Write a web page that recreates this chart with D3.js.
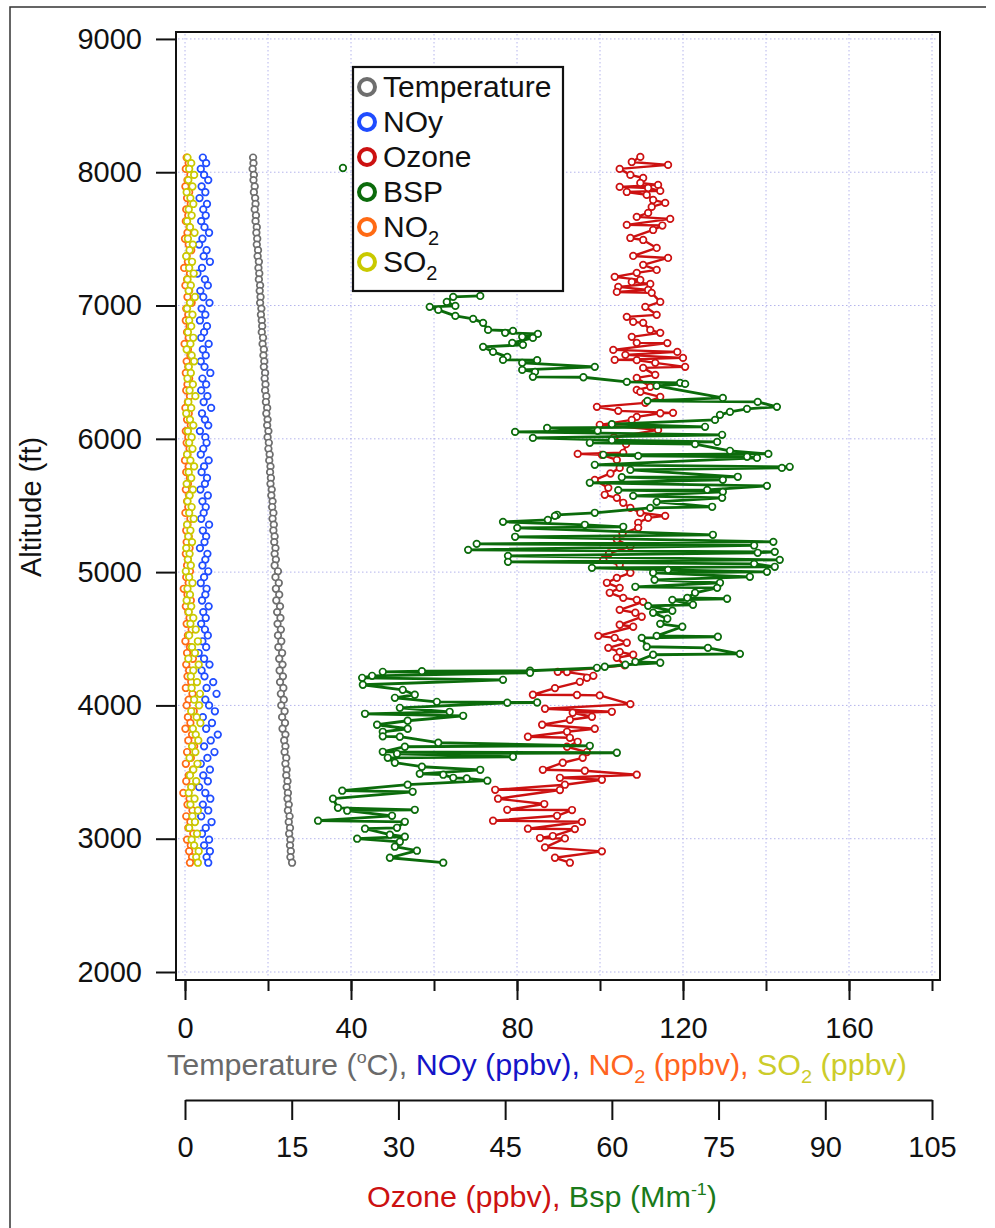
<!DOCTYPE html>
<html><head><meta charset="utf-8">
<script src="https://cdn.jsdelivr.net/npm/d3@7"></script>
<style>
body{margin:0;background:#fff}
svg{display:block}
text{font-family:"Liberation Sans",Arial,sans-serif}
</style>
</head><body>
<svg id="c" width="995" height="1228"></svg>
<script>
// ---------------- DATA ----------------
const altTicks = [2000, 3000, 4000, 5000, 6000, 7000, 8000, 9000];
const topTicks = [0, 20, 40, 60, 80, 100, 120, 140, 160, 180];
const topLabelTicks = [0, 40, 80, 120, 160];
const bottomTicks = [0, 15, 30, 45, 60, 75, 90, 105];

// profile shared by Temperature, NOy, NO2, SO2 (ft)
const profileAlt = [
 8110, 8068, 8025, 7980, 7941, 7893, 7850, 7806, 7762, 7721,
 7675, 7633, 7588, 7546, 7501, 7457, 7415, 7370, 7328, 7282,
 7240, 7196, 7151, 7110, 7064, 7020, 6977, 6931, 6888, 6845,
 6800, 6758, 6712, 6670, 6626, 6581, 6540, 6494, 6452, 6408,
 6363, 6320, 6276, 6232, 6190, 6144, 6101, 6058, 6012, 5970,
 5925, 5882, 5838, 5793, 5750, 5706, 5662, 5619, 5575, 5531,
 5488, 5444, 5400, 5356, 5312, 5268, 5225, 5180, 5137, 5094,
 5050, 5006, 4962, 4918, 4875, 4831, 4787, 4743, 4700, 4656,
 4612, 4569, 4525, 4481, 4437, 4393, 4350, 4306, 4262, 4218,
 4175, 4131, 4087, 4043, 4000, 3956, 3912, 3868, 3825, 3781,
 3737, 3693, 3650, 3606, 3562, 3518, 3475, 3431, 3387, 3343,
 3300, 3256, 3212, 3168, 3125, 3081, 3037, 2993, 2950, 2906,
 2862, 2820];
const temperature = [
 16.4, 16.5, 16.3, 16.6, 16.5, 16.8, 16.6, 16.9, 17.0, 16.8,
 17.1, 17.0, 17.3, 17.2, 17.4, 17.3, 17.6, 17.5, 17.8, 17.7,
 17.9, 17.8, 18.1, 18.0, 18.2, 18.1, 18.4, 18.3, 18.5, 18.6,
 18.5, 18.8, 18.7, 19.0, 18.9, 19.1, 19.0, 19.3, 19.2, 19.4,
 19.3, 19.6, 19.5, 19.8, 19.6, 19.9, 19.8, 20.1, 19.9, 20.2,
 20.1, 20.4, 20.3, 20.6, 20.5, 20.7, 20.6, 20.9, 20.8, 21.1,
 21.0, 21.3, 21.1, 21.4, 21.3, 21.6, 21.5, 21.8, 21.6, 21.9,
 21.6, 22.4, 21.8, 22.6, 21.9, 22.7, 22.0, 22.9, 22.2, 23.0,
 22.3, 23.1, 22.4, 23.2, 22.5, 23.4, 22.7, 23.5, 22.8, 23.6,
 22.9, 23.7, 23.1, 23.8, 23.2, 24.0, 23.4, 24.1, 23.5, 24.2,
 23.9, 24.2, 24.0, 24.4, 24.2, 24.5, 24.4, 24.7, 24.5, 24.8,
 24.7, 25.0, 24.8, 25.2, 25.0, 25.3, 25.1, 25.4, 25.3, 25.5,
 25.4, 25.8];
const noy = [
 4.3, 5.1, 3.8, 4.6, 5.6, 4.0, 4.9, 3.5, 5.3, 4.4,
 5.0, 3.9, 4.7, 5.8, 4.2, 3.4, 5.2, 4.5, 6.0, 4.1,
 3.0, 4.8, 5.5, 3.7, 4.4, 5.9, 4.0, 4.9, 3.6, 5.3,
 4.6, 3.9, 5.7, 4.3, 5.0, 3.8, 4.7, 6.1, 4.2, 5.1,
 3.9, 5.4, 4.5, 6.3, 4.1, 4.8, 5.6, 3.6, 4.9, 5.2,
 4.4, 3.8, 5.7, 4.6, 4.0, 5.3, 4.8, 3.7, 5.5, 4.2,
 5.0, 4.5, 3.9, 5.8, 4.3, 5.1, 4.7, 3.6, 5.4, 4.9,
 4.2, 5.6, 4.6, 3.8, 5.2, 4.9, 4.1, 5.7, 4.4, 5.0,
 3.9, 4.8, 5.5, 4.2, 5.1, 3.3, 4.6, 5.9, 4.0, 4.7,
 6.8, 5.2, 7.6, 4.9, 5.8, 7.2, 4.3, 6.5, 5.1, 7.9,
 6.2, 4.6, 7.1, 5.4, 3.8, 6.0, 4.4, 5.5, 3.4, 4.9,
 6.1, 4.3, 5.6, 3.9, 6.4, 5.0, 4.1, 5.8, 4.6, 6.0,
 5.2, 5.6];
const no2 = [
 0.4, 0.9, 0.2, 1.3, 0.6, 0.1, 1.0, 0.5, 1.4, 0.3,
 0.8, 0.2, 1.1, 0.6, 0.0, 0.9, 1.5, 0.4, 0.7, -0.2,
 1.2, 0.5, 0.1, 1.0, 0.6, 1.6, 0.3, 0.8, 0.2, 1.1,
 0.5, 0.9, -0.1, 0.7, 1.3, 0.4, 0.8, 0.2, 1.0, 0.6,
 0.3, 1.2, 0.7, 0.1, 0.9, 0.5, 1.4, 0.2, 0.8, 0.4,
 1.1, 0.6, 0.0, 0.9, 0.3, 1.2, 0.7, 0.2, 1.0, 0.5,
 0.8, 0.1, 1.3, 0.6, 0.3, 0.9, 0.4, 1.1, 0.2, 0.7,
 0.5, 1.2, 0.3, 0.9, -0.3, 0.6, 1.4, 0.2, 0.8, 1.1,
 0.4, 1.6, 0.7, 0.1, 1.2, 0.5, 1.9, 0.3, 1.0, 0.6,
 1.5, 0.2, 1.8, 0.9, 0.4, 2.1, 0.7, 1.3, 0.1, 1.7,
 0.8, 2.2, 0.5, 1.4, 0.2, 1.9, 0.9, 0.3, 1.6, -0.4,
 1.1, 0.6, 1.8, 0.3, 1.3, 0.8, 2.0, 0.5, 1.4, 1.0,
 1.7, 1.2];
const so2 = [
 0.6, 1.5, 1.0, 2.2, 0.8, 1.8, 0.4, 1.3, 2.0, 0.9,
 1.6, 0.5, 1.2, 2.3, 0.7, 1.9, 1.1, 0.3, 1.7, 1.0,
 2.1, 0.6, 1.4, 0.9, 2.4, 1.2, 0.5, 1.8, 1.0, 1.5,
 0.7, 2.0, 1.3, 0.4, 1.6, 2.2, 0.9, 1.4, 0.6, 1.9,
 1.1, 2.5, 0.8, 1.5, 0.3, 1.2, 2.0, 0.7, 1.6, 1.0,
 1.8, 0.5, 1.3, 2.2, 0.9, 1.5, 0.4, 1.9, 1.1, 0.6,
 1.6, 1.0, 2.1, 0.5, 1.3, 0.8, 1.7, 0.3, 1.1, 0.7,
 1.4, 0.2, 1.0, 1.8, 0.6, 1.2, 0.4, 1.5, 0.9, 2.0,
 1.3, 2.6, 1.0, 3.1, 1.7, 2.4, 0.8, 3.3, 2.0, 1.4,
 2.9, 1.6, 3.6, 2.2, 3.4, 1.5, 2.8, 3.7, 1.9, 2.6,
 3.2, 1.7, 2.5, 1.1, 3.0, 2.0, 1.2, 2.7, 1.5, 0.9,
 2.3, 1.3, 3.1, 1.8, 2.4, 1.0, 2.9, 1.6, 2.2, 3.3,
 2.7, 3.1];

// Ozone (ppbv)
const ozoneAlt = [
 8115, 8077, 8055, 8025, 7980, 7957, 7920, 7905, 7890, 7882,
 7860, 7852, 7830, 7792, 7770, 7740, 7695, 7665, 7650, 7605,
 7600, 7567, 7507, 7492, 7432, 7372, 7357, 7305, 7267, 7245,
 7215, 7192, 7177, 7162, 7140, 7117, 7102, 7095, 7027, 6990,
 6930, 6915, 6877, 6870, 6817, 6795, 6765, 6720, 6718, 6667,
 6652, 6630, 6607, 6592, 6590, 6570, 6540, 6532, 6480, 6457,
 6390, 6367, 6352, 6315, 6270, 6240, 6210, 6195, 6192, 6165,
 6142, 6105, 6067, 6010, 5960, 5895, 5887, 5880, 5842, 5782,
 5740, 5692, 5632, 5580, 5557, 5520, 5482, 5445, 5422, 5407,
 5370, 5332, 5290, 5245, 5192, 5140, 5092, 5055, 4995, 4957,
 4920, 4882, 4845, 4807, 4792, 4777, 4717, 4695, 4665, 4605,
 4590, 4522, 4507, 4470, 4432, 4402, 4380, 4357, 4300, 4252,
 4250, 4222, 4207, 4177, 4130, 4080, 4078, 4075, 4010, 3975,
 3952, 3945, 3915, 3892, 3855, 3825, 3802, 3765, 3757, 3727,
 3690, 3650, 3607, 3570, 3517, 3510, 3480, 3457, 3442, 3405,
 3367, 3365, 3300, 3260, 3217, 3215, 3172, 3135, 3127, 3075,
 3072, 3020, 3005, 3002, 2935, 2905, 2857, 2820];
const ozone = [
 64.0, 62.8, 67.9, 61.1, 62.6, 64.4, 64.0, 66.5, 61.1, 65.1,
 66.8, 62.1, 64.9, 65.8, 67.5, 65.6, 65.1, 63.5, 68.2, 62.1,
 67.1, 65.8, 62.6, 64.4, 66.3, 63.0, 67.9, 64.4, 66.3, 63.5,
 60.4, 64.0, 62.8, 65.4, 60.9, 65.1, 60.7, 65.6, 66.8, 64.7,
 66.3, 62.1, 63.0, 64.4, 65.4, 66.8, 62.8, 63.5, 67.8, 60.2,
 69.2, 61.9, 70.0, 60.4, 63.5, 66.1, 70.3, 64.4, 66.1, 63.5,
 65.4, 63.5, 64.0, 66.8, 64.7, 57.9, 60.9, 68.6, 66.8, 63.5,
 62.8, 58.3, 66.5, 60.3, 62.0, 61.6, 55.2, 58.6, 60.7, 61.1,
 59.8, 57.6, 59.5, 59.0, 60.7, 61.6, 62.6, 64.0, 67.5, 65.1,
 63.7, 63.7, 61.5, 60.7, 62.6, 59.6, 58.8, 61.1, 62.6, 60.7,
 59.3, 61.1, 59.7, 61.6, 63.5, 64.4, 61.1, 63.3, 64.2, 61.1,
 63.0, 58.1, 60.4, 62.1, 59.5, 61.1, 63.0, 60.7, 61.8, 52.4,
 53.7, 57.4, 56.5, 55.5, 52.0, 48.9, 55.1, 58.3, 62.6, 50.6,
 60.0, 54.5, 57.2, 54.1, 50.2, 57.6, 53.7, 48.2, 54.1, 55.2,
 53.7, 56.5, 55.9, 53.1, 50.3, 56.2, 63.5, 52.7, 58.6, 53.4,
 43.6, 52.7, 44.0, 50.5, 45.3, 54.4, 52.3, 43.3, 55.8, 48.2,
 54.8, 51.7, 49.9, 53.4, 50.6, 58.6, 52.0, 54.1];

// BSP (Mm-1); null = no data (gap in the line)
const bspAlt = [
 8032, 7500, 7072, 7065, 7027, 6997, 6990, 6967, 6922, 6900,
 6870, 6817, 6810, 6795, 6787, 6765, 6757, 6720, 6705, 6690,
 6652, 6615, 6592, 6590, 6570, 6540, 6517, 6502, 6465, 6462,
 6427, 6420, 6412, 6397, 6307, 6285, 6277, 6240, 6225, 6202,
 6180, 6142, 6110, 6090, 6082, 6060, 6052, 6030, 6007, 5990,
 5977, 5970, 5960, 5910, 5887, 5880, 5872, 5865, 5857, 5805,
 5790, 5782, 5767, 5715, 5712, 5692, 5670, 5647, 5617, 5615,
 5602, 5572, 5557, 5527, 5490, 5482, 5445, 5430, 5422, 5392,
 5377, 5355, 5340, 5332, 5280, 5265, 5227, 5212, 5200, 5167,
 5152, 5145, 5122, 5092, 5077, 5062, 5040, 5032, 5017, 5002,
 4995, 4965, 4942, 4920, 4890, 4882, 4845, 4807, 4800, 4792,
 4755, 4747, 4710, 4695, 4650, 4612, 4590, 4522, 4515, 4507,
 4440, 4432, 4387, 4380, 4327, 4320, 4305, 4290, 4282, 4260,
 4257, 4252, 4245, 4222, 4207, 4192, 4155, 4117, 4080, 4057,
 4027, 4022, 4020, 3982, 3952, 3937, 3922, 3885, 3855, 3825,
 3802, 3768, 3765, 3720, 3697, 3690, 3652, 3645, 3637, 3615,
 3607, 3570, 3540, 3517, 3487, 3480, 3457, 3452, 3435, 3405,
 3360, 3352, 3300, 3232, 3217, 3210, 3172, 3135, 3127, 3082,
 3075, 3030, 3015, 3000, 2977, 2940, 2910, 2857, 2820];
const bsp = [
 22.2, null, 41.5, 37.7, 36.8, 38.0, 34.4, 35.6, 38.0, 40.5,
 41.9, 42.6, 46.1, 45.0, 49.6, 47.4, 48.9, 46.0, 47.5, 41.9,
 43.3, 45.3, 44.7, 49.5, 47.4, 57.6, 47.4, 49.2, 48.9, 56.0,
 62.1, 69.6, 70.3, 66.3, 75.6, 65.0, 80.5, 83.2, 79.0, 76.6,
 75.2, 74.5, 60.0, 73.1, 50.9, 58.0, 46.4, 75.5, 48.9, 60.0,
 74.8, 56.9, 71.7, 76.6, 82.0, 58.8, 63.7, 79.0, 80.4, 57.6,
 85.0, 83.9, 62.6, 77.7, 61.4, 75.6, 56.9, 81.8, 73.4, 60.9,
 75.6, 63.0, 75.5, 66.3, 74.1, 65.4, 57.6, 52.3, 52.0, 51.0,
 44.7, 56.2, 61.6, 46.7, 74.2, 46.4, 82.7, 41.0, 80.0, 39.8,
 82.9, 80.5, 45.4, 83.6, 45.4, 80.0, 82.9, 57.2, 67.9, 81.8,
 65.8, 79.4, 66.0, 75.2, 63.3, 74.8, 71.7, 70.6, 76.2, 68.5,
 71.4, 65.1, 68.5, 65.8, 67.8, 66.8, 69.9, 66.3, 74.9, 64.2,
 64.9, 73.5, 78.0, 65.8, 63.3, 66.8, 61.9, 59.0, 57.9, 48.5,
 33.3, 27.8, 48.5, 26.3, 24.9, 44.7, 25.0, 30.6, 32.3, 29.5,
 35.4, 49.5, 45.3, 30.2, 37.2, 25.3, 39.1, 31.3, 27.0, 31.3,
 27.8, 27.8, 30.2, 35.6, 56.9, 30.9, 27.8, 60.7, 29.8, 46.1,
 28.5, 29.5, 33.3, 41.5, 33.0, 36.3, 37.7, 39.6, 42.5, 31.3,
 22.1, 32.0, 20.8, 21.5, 32.3, 22.8, 29.1, 18.7, 30.9, 29.8,
 25.3, 28.8, 30.9, 24.2, 30.2, 29.5, 32.6, 28.8, 36.3];

const legendItems = ["Temperature", "NOy", "Ozone", "BSP", "NO2", "SO2"];

// ---------------- STYLE ----------------
const C = {
  temp: "#6e6e6e", noy: "#1f4cff", ozone: "#cc1111", bsp: "#0b6b0b",
  no2: "#ff6a14", so2: "#c9c900"
};
const FONT = 29;

const svg = d3.select("#c");
svg.append("rect").attr("width", 995).attr("height", 1228).attr("fill", "#fff");
svg.append("path").attr("d", "M10,1228V7H986").attr("fill", "none")
  .attr("stroke", "#333").attr("stroke-width", 1.5);

const frame = {l: 176, t: 32, r: 940, b: 980};
const y = d3.scaleLinear().domain([1940, 9052]).range([frame.b, frame.t]);
const xTop = d3.scaleLinear().domain([0, 180]).range([185, 932]);
const xBot = d3.scaleLinear().domain([0, 105]).range([185, 932]);

// grid
const grid = svg.append("g").attr("stroke", "#b4b4ec").attr("stroke-width", 1)
  .attr("stroke-dasharray", "1.5,2.5");
grid.selectAll("line.gv").data(topTicks).join("line").attr("class", "gv")
  .attr("x1", d => xTop(d)).attr("x2", d => xTop(d))
  .attr("y1", frame.t + 2).attr("y2", frame.b - 2);
grid.selectAll("line.gh").data(altTicks).join("line").attr("class", "gh")
  .attr("y1", d => y(d)).attr("y2", d => y(d))
  .attr("x1", frame.l + 2).attr("x2", frame.r - 2);

// data
const plot = svg.append("g");
function markers(data, xf, color) {
  plot.append("g").selectAll("circle").data(data.filter(d => d.v != null)).join("circle")
    .attr("cx", d => xf(d.v)).attr("cy", d => y(d.a)).attr("r", 3.3)
    .attr("fill", "#fff").attr("stroke", color).attr("stroke-width", 1.7);
}
function line(data, xf, color, w) {
  plot.append("path").datum(data)
    .attr("d", d3.line().defined(d => d.v != null).x(d => xf(d.v)).y(d => y(d.a)))
    .attr("fill", "none").attr("stroke", color).attr("stroke-width", w)
    .attr("stroke-linejoin", "round");
}
const zip = (alts, vals) => alts.map((a, i) => ({a, v: vals[i]}));

markers(zip(profileAlt, temperature), xTop, C.temp);
markers(zip(profileAlt, noy), xTop, C.noy);
const oz = zip(ozoneAlt, ozone);
line(oz, xBot, C.ozone, 2.4);
markers(oz, xBot, C.ozone);
const bs = zip(bspAlt, bsp);
line(bs, xBot, C.bsp, 2.8);
markers(bs, xBot, C.bsp);
markers(zip(profileAlt, no2), xTop, C.no2);
markers(zip(profileAlt, so2), xTop, C.so2);

// frame
svg.append("rect").attr("x", frame.l).attr("y", frame.t)
  .attr("width", frame.r - frame.l).attr("height", frame.b - frame.t)
  .attr("fill", "none").attr("stroke", "#111").attr("stroke-width", 2);

function styleAxis(g) {
  g.selectAll(".tick line").attr("stroke", "#111").attr("stroke-width", 2);
  g.selectAll("text").attr("font-size", FONT).attr("fill", "#111")
    .attr("font-family", '"Liberation Sans", Arial, sans-serif');
}
// left axis
const ga = svg.append("g").attr("transform", `translate(${frame.l},0)`)
  .call(d3.axisLeft(y).tickValues(altTicks).tickSize(20).tickPadding(14).tickFormat(d3.format("d")));
ga.select(".domain").remove();
styleAxis(ga);

// first x axis (minor + major)
const gm = svg.append("g").attr("transform", `translate(0,${frame.b})`)
  .call(d3.axisBottom(xTop).tickValues(topTicks).tickSize(11).tickFormat(""));
gm.select(".domain").remove();
styleAxis(gm);
const gx1 = svg.append("g").attr("transform", `translate(0,${frame.b})`)
  .call(d3.axisBottom(xTop).tickValues(topLabelTicks).tickSize(20).tickPadding(17).tickFormat(d3.format("d")));
gx1.select(".domain").remove();
styleAxis(gx1);

// second x axis
const gx2 = svg.append("g").attr("transform", "translate(0,1100)")
  .call(d3.axisBottom(xBot).tickValues(bottomTicks).tickSize(20).tickSizeOuter(0).tickPadding(16).tickFormat(d3.format("d")));
gx2.select(".domain").attr("stroke", "#111").attr("stroke-width", 2);
styleAxis(gx2);

// y title
svg.append("text").attr("transform", "translate(41,507) rotate(-90)")
  .attr("text-anchor", "middle").attr("font-size", FONT).attr("fill", "#111")
  .text("Altitude (ft)");

// x title 1
const t1 = svg.append("text").attr("x", 167).attr("y", 1075).attr("font-size", FONT)
  .attr("textLength", 740).attr("lengthAdjust", "spacingAndGlyphs");
t1.append("tspan").attr("fill", "#6a6a6a").text("Temperature (");
t1.append("tspan").attr("fill", "#6a6a6a").attr("font-size", 17).attr("dy", -12).text("o");
t1.append("tspan").attr("fill", "#6a6a6a").attr("dy", 12).text("C), ");
t1.append("tspan").attr("fill", "#1414c8").text("NOy (ppbv), ");
t1.append("tspan").attr("fill", "#ff6420").text("NO");
t1.append("tspan").attr("fill", "#ff6420").attr("font-size", 19).attr("dy", 8).text("2");
t1.append("tspan").attr("fill", "#ff6420").attr("dy", -8).text(" (ppbv), ");
t1.append("tspan").attr("fill", "#cccc2a").text("SO");
t1.append("tspan").attr("fill", "#cccc2a").attr("font-size", 19).attr("dy", 8).text("2");
t1.append("tspan").attr("fill", "#cccc2a").attr("dy", -8).text(" (ppbv)");

// x title 2
const t2 = svg.append("text").attr("x", 367).attr("y", 1207).attr("font-size", FONT)
  .attr("textLength", 350).attr("lengthAdjust", "spacingAndGlyphs");
t2.append("tspan").attr("fill", "#cc1111").text("Ozone (ppbv), ");
t2.append("tspan").attr("fill", "#1a7a1a").text("Bsp (Mm");
t2.append("tspan").attr("fill", "#1a7a1a").attr("font-size", 17).attr("dy", -12).text("-1");
t2.append("tspan").attr("fill", "#1a7a1a").attr("dy", 12).text(")");

// legend
const lg = svg.append("g");
lg.append("rect").attr("x", 353).attr("y", 67).attr("width", 210).attr("height", 224)
  .attr("fill", "#fff").attr("stroke", "#111").attr("stroke-width", 2.2);
const lcol = [C.temp, C.noy, C.ozone, C.bsp, C.no2, C.so2];
legendItems.forEach((name, i) => {
  const by = 97 + i * 35;
  lg.append("circle").attr("cx", 367).attr("cy", by - 10).attr("r", 8)
    .attr("fill", "#fff").attr("stroke", lcol[i]).attr("stroke-width", 4);
  const t = lg.append("text").attr("x", 383).attr("y", by).attr("font-size", 30).attr("fill", "#111");
  if (name.endsWith("2")) {
    t.append("tspan").text(name.slice(0, -1));
    t.append("tspan").attr("font-size", 20).attr("dy", 8).text("2");
  } else {
    t.text(name);
  }
});
</script>
</body></html>
